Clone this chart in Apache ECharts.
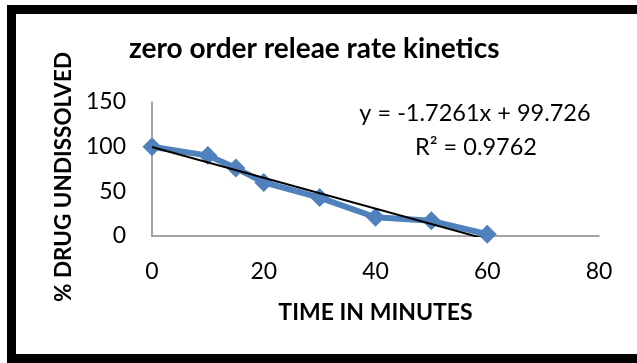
<!DOCTYPE html>
<html>
<head>
<meta charset="utf-8">
<script src="https://cdn.jsdelivr.net/npm/echarts@6/dist/echarts.min.js"></script>
<style>
  html, body { margin: 0; padding: 0; background: #fff; }
  #chart { width: 637px; height: 363px; }
</style>
</head>
<body>
<div id="chart"></div>
<script>
// Dissolution time points (minutes) and % drug remaining undissolved
const timeMin = [0, 10, 15, 20, 30, 40, 50, 60];
const drugUndissolved = [100, 90, 76, 60, 43, 21, 17, 2];

// Linear trendline fitted to the release data
const trendSlope = -1.7261;
const trendIntercept = 99.726;
const rSquared = 0.9762;

const chartTitle = 'zero order releae rate kinetics';
const xAxisName = 'TIME IN MINUTES';
const yAxisName = '% DRUG UNDISSOLVED';

const seriesPoints = timeMin.map((t, i) => [t, drugUndissolved[i]]);
const xFirst = timeMin[0];
const xLast = timeMin[timeMin.length - 1];
const trendPoints = [
  [xFirst, trendSlope * xFirst + trendIntercept],
  [xLast, trendSlope * xLast + trendIntercept]
];
const equationText = 'y = ' + trendSlope + 'x + ' + trendIntercept;
const r2Text = 'R\u00B2 = ' + rSquared;

const FONT = 'Lato, "Open Sans", sans-serif';
const axisGray = '#868686';

const chart = echarts.init(document.getElementById('chart'), null, { renderer: 'canvas' });
chart.setOption({
  backgroundColor: '#ffffff',
  animation: false,
  grid: { left: 152, right: 38, top: 102, bottom: 127 },
  xAxis: {
    type: 'value',
    min: 0, max: 80, interval: 20,
    name: xAxisName,
    nameLocation: 'middle',
    nameGap: 65,
    nameTextStyle: { fontFamily: FONT, fontWeight: 'bold', fontSize: 23, color: '#000' },
    axisLine: { show: true, onZero: false, lineStyle: { color: axisGray, width: 1.5 } },
    axisTick: { show: false },
    splitLine: { show: false },
    axisLabel: { margin: 24, fontFamily: FONT, fontSize: 23, color: '#000' }
  },
  yAxis: {
    type: 'value',
    min: 0, max: 150, interval: 50,
    name: yAxisName,
    nameLocation: 'middle',
    nameGap: 72,
    nameRotate: 90,
    nameTextStyle: {
      fontFamily: FONT, fontWeight: 'bold', fontSize: 22.5, color: '#000',
      padding: [0, 16, 0, 0]
    },
    axisLine: { show: true, lineStyle: { color: axisGray, width: 1.5 } },
    axisTick: { show: false },
    splitLine: { show: false },
    axisLabel: { margin: 26, fontFamily: FONT, fontSize: 23, color: '#000' }
  },
  series: [
    {
      type: 'line',
      data: seriesPoints,
      symbol: 'diamond',
      symbolSize: 19,
      showSymbol: true,
      clip: false,
      lineStyle: { color: '#4F81BD', width: 6 },
      itemStyle: { color: '#4F81BD' },
      z: 2
    },
    {
      type: 'line',
      data: trendPoints,
      symbol: 'none',
      clip: true,
      lineStyle: { color: '#000', width: 2 },
      z: 3
    }
  ],
  graphic: [
    {
      type: 'rect',
      silent: true,
      shape: { x: 11.5, y: 9.5, width: 700, height: 349 },
      style: { fill: 'none', stroke: '#000', lineWidth: 9 }
    },
    {
      type: 'text',
      x: 129, y: 49,
      style: { text: chartTitle, font: 'bold 28px ' + FONT, fill: '#000', align: 'left', verticalAlign: 'middle' }
    },
    {
      type: 'text',
      x: 475, y: 113,
      style: { text: equationText, font: '23.5px ' + FONT, fill: '#000', align: 'center', verticalAlign: 'middle' }
    },
    {
      type: 'text',
      x: 476, y: 147,
      style: { text: r2Text, font: '23.5px ' + FONT, fill: '#000', align: 'center', verticalAlign: 'middle' }
    }
  ]
});
</script>
</body>
</html>
